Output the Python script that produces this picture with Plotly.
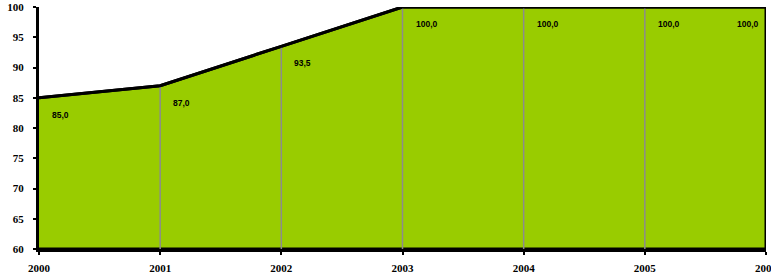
import plotly.graph_objects as go

years = [2000, 2001, 2002, 2003, 2004, 2005, 2006]
values = [85.0, 87.0, 93.5, 100.0, 100.0, 100.0, 100.0]
labels = ["85,0", "87,0", "93,5", "100,0", "100,0", "100,0", "100,0"]
y_min, y_max = 60, 100

fig = go.Figure()

# filled area polygon with black border
fig.add_trace(go.Scatter(
    x=years + [years[-1], years[0]],
    y=values + [y_min, y_min],
    fill="toself", fillcolor="#99CC00",
    line=dict(color="black", width=3),
    mode="lines", hoverinfo="skip", showlegend=False, cliponaxis=False,
))

# drop lines
dx, dy = [], []
for xv, yv in zip(years[1:-1], values[1:-1]):
    dx += [xv, xv, None]
    dy += [y_min, yv, None]
fig.add_trace(go.Scatter(x=dx, y=dy, mode="lines",
                         line=dict(color="#8c8c8c", width=1.5),
                         hoverinfo="skip", showlegend=False))

# top line redrawn above drop lines
fig.add_trace(go.Scatter(x=years, y=values, mode="lines",
                         line=dict(color="black", width=3),
                         hoverinfo="skip", showlegend=False, cliponaxis=False))

for i, (xv, yv, t) in enumerate(zip(years, values, labels)):
    last = i == len(years) - 1
    fig.add_annotation(x=xv, y=yv, text=t, showarrow=False,
                       xanchor="right" if last else "left",
                       yanchor="middle",
                       xshift=-5 if last else 11, yshift=-17,
                       font=dict(family="Liberation Sans, Arial", size=8.5, color="black", weight="bold"))

tick_font = dict(family="Liberation Serif, Times New Roman", size=11, color="black", weight="bold")
fig.update_layout(
    width=771, height=276,
    margin=dict(l=39, r=5, t=7, b=27, autoexpand=False),
    paper_bgcolor="white", plot_bgcolor="white",
    xaxis=dict(range=[years[0], years[-1]], tickvals=years, ticktext=[str(y) for y in years],
               showgrid=False, zeroline=False, showline=True, linecolor="black", linewidth=3,
               ticks="outside", ticklen=3, tickwidth=2, tickcolor="black",
               ticklabelstandoff=4, ticklabeloverflow="allow", automargin=False,
               tickfont=tick_font),
    yaxis=dict(range=[y_min, y_max], dtick=5, tick0=60,
               showgrid=False, zeroline=False, showline=True, linecolor="black", linewidth=3,
               ticks="outside", ticklen=3, tickwidth=2, tickcolor="black",
               ticklabelstandoff=7, ticklabeloverflow="allow", automargin=False,
               tickfont=tick_font),
)

fig.write_html("out.html", config={"displayModeBar": False},
               post_script="document.body.style.margin='0';document.body.style.overflow='hidden';")
